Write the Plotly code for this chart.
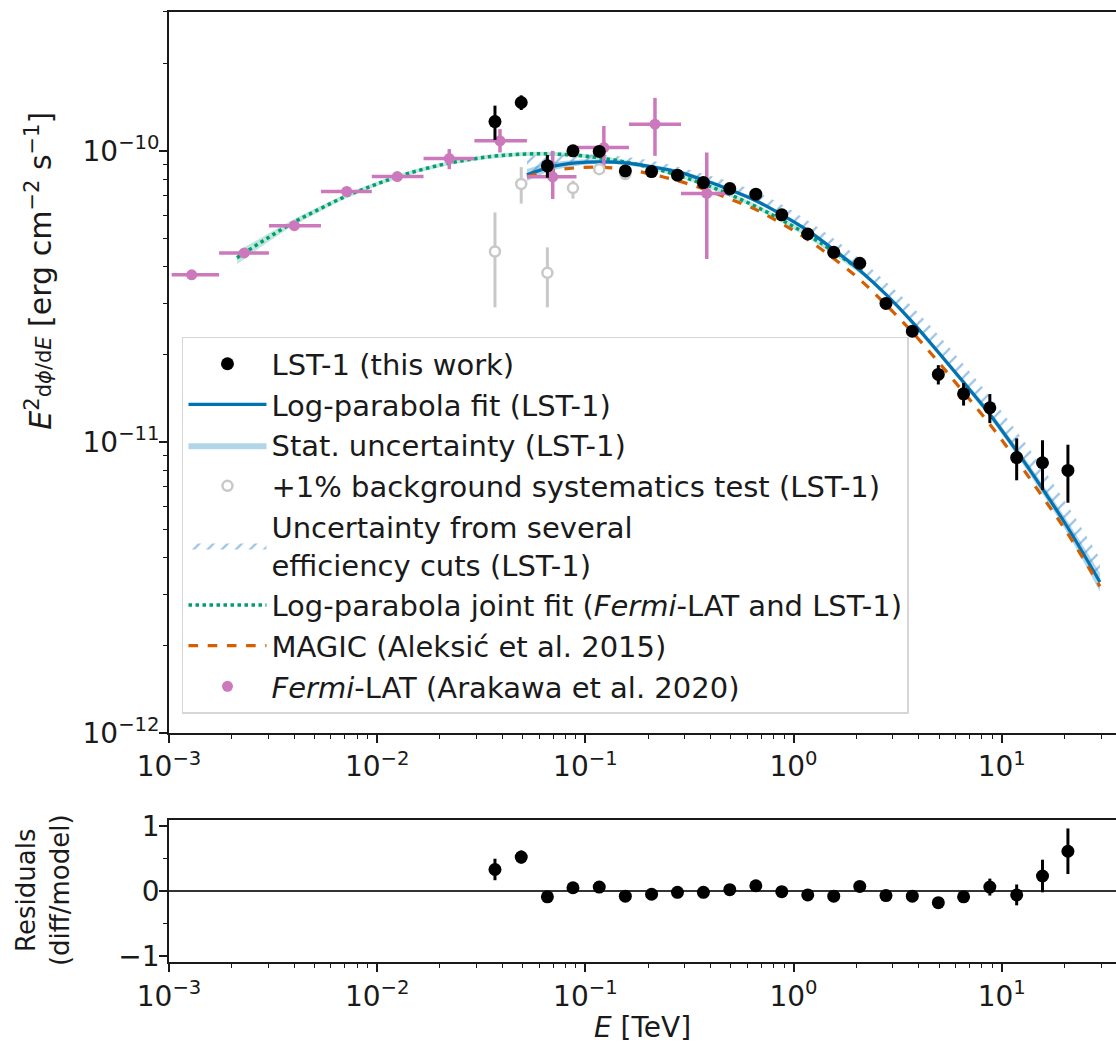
import plotly.graph_objects as go

# ---------------- data ----------------
# LST-1 flux points (TeV, erg cm-2 s-1)
lst_E = [0.0368, 0.0492, 0.0657, 0.0872, 0.1166, 0.1556, 0.208, 0.277, 0.369, 0.494,
         0.659, 0.878, 1.17, 1.56, 2.08, 2.78, 3.72, 4.96, 6.56, 8.77, 11.8, 15.7, 20.8]
lst_flux = [1.26e-10, 1.466e-10, 8.88e-11, 1.0e-10, 9.95e-11, 8.53e-11, 8.49e-11, 8.25e-11,
            7.78e-11, 7.42e-11, 7.10e-11, 6.03e-11, 5.18e-11, 4.48e-11, 4.11e-11, 2.99e-11,
            2.40e-11, 1.705e-11, 1.463e-11, 1.31e-11, 8.83e-12, 8.48e-12, 7.98e-12]
lst_err = [1.7e-11, 8.5e-12, 8.0e-12, 4.5e-12, 3.0e-12, 2.0e-12, 1.6e-12, 1.4e-12, 1.3e-12,
           1.2e-12, 1.2e-12, 1.0e-12, 1.0e-12, 0.9e-12, 0.9e-12, 0.8e-12, 0.8e-12, 1.3e-12,
           1.3e-12, 1.5e-12, 1.45e-12, 1.65e-12, 1.8e-12]

# residuals (diff/model)
res_val = [0.33, 0.52, -0.09, 0.05, 0.06, -0.08, -0.05, -0.02, -0.02, 0.02, 0.08, -0.01,
           -0.06, -0.08, 0.07, -0.07, -0.08, -0.18, -0.09, 0.06, -0.06, 0.23, 0.61]
res_err = [0.165, 0.10, 0.04, 0.03, 0.03, 0.03, 0.03, 0.03, 0.03, 0.03, 0.03, 0.03, 0.03,
           0.03, 0.03, 0.03, 0.04, 0.05, 0.07, 0.13, 0.16, 0.25, 0.35]

# +1% background systematics test (LST-1)
sys_E = [0.0368, 0.0492, 0.0657, 0.0872, 0.1166, 0.1556]
sys_flux = [4.51e-11, 7.69e-11, 3.81e-11, 7.45e-11, 8.65e-11, 8.32e-11]
sys_err_up = [1.63e-11, 1.10e-11, 0.85e-11, 0.45e-11, 0.20e-11, 0.15e-11]
sys_err_dn = [1.61e-11, 1.10e-11, 0.91e-11, 0.60e-11, 0.20e-11, 0.15e-11]

# Fermi-LAT (Arakawa et al. 2020)
fermi_E = [1.285e-3, 2.30e-3, 4.00e-3, 7.14e-3, 1.249e-2, 2.22e-2, 3.89e-2, 6.97e-2,
           0.1227, 0.216, 0.383]
fermi_Elo = [1.03e-3, 1.74e-3, 3.02e-3, 5.37e-3, 9.42e-3, 1.67e-2, 2.93e-2, 5.24e-2,
             9.07e-2, 0.162, 0.288]
fermi_Ehi = [1.74e-3, 3.02e-3, 5.37e-3, 9.42e-3, 1.67e-2, 2.93e-2, 5.24e-2, 9.07e-2,
             0.162, 0.288, 0.505]
fermi_flux = [3.75e-11, 4.46e-11, 5.53e-11, 7.25e-11, 8.16e-11, 9.41e-11, 1.082e-10,
              8.14e-11, 1.026e-10, 1.235e-10, 7.14e-11]
fermi_err_up = [1.1e-12, 1.3e-12, 1.7e-12, 2.2e-12, 2.5e-12, 7.3e-12, 1.05e-11, 1.86e-11,
                1.92e-11, 2.85e-11, 2.73e-11]
fermi_err_dn = [1.1e-12, 1.3e-12, 1.7e-12, 2.2e-12, 2.5e-12, 7.6e-12, 9.5e-12, 1.31e-11,
                1.38e-11, 2.74e-11, 2.89e-11]

# Log-parabola fit (LST-1)
fit_E = [0.0524, 0.0684, 0.0901, 0.1175, 0.155, 0.2089, 0.2785, 0.3671, 0.4947, 0.6597,
         0.8796, 1.173, 1.563, 2.084, 2.778, 3.704, 4.938, 6.512, 8.776, 11.83, 15.77,
         20.57, 29.63]
fit_flux = [8.27e-11, 8.81e-11, 9.09e-11, 9.17e-11, 9.09e-11, 8.81e-11, 8.47e-11, 7.95e-11,
            7.35e-11, 6.74e-11, 6.03e-11, 5.32e-11, 4.57e-11, 3.88e-11, 3.21e-11, 2.59e-11,
            2.04e-11, 1.612e-11, 1.243e-11, 9.28e-12, 6.87e-12, 5.13e-12, 3.30e-12]
# stat. band half-width (relative)
stat_rel = [0.048, 0.032, 0.024, 0.016, 0.016, 0.016, 0.016, 0.016, 0.016, 0.016, 0.016,
            0.016, 0.016, 0.016, 0.016, 0.020, 0.022, 0.024, 0.028, 0.032, 0.040, 0.048, 0.074]
# efficiency-cuts envelope (upper edge of hatch)
hatch_hi = [9.61e-11, 9.69e-11, 9.72e-11, 9.69e-11, 9.54e-11, 9.24e-11, 8.81e-11, 8.34e-11,
            7.83e-11, 7.23e-11, 6.53e-11, 5.75e-11, 4.99e-11, 4.26e-11, 3.55e-11, 2.92e-11,
            2.34e-11, 1.859e-11, 1.432e-11, 1.086e-11, 8.11e-12, 6.10e-12, 3.98e-12]

# MAGIC (Aleksic et al. 2015)
magic_flux = [8.14e-11, 8.54e-11, 8.74e-11, 8.78e-11, 8.64e-11, 8.31e-11, 7.89e-11, 7.41e-11,
              6.84e-11, 6.28e-11, 5.62e-11, 4.95e-11, 4.26e-11, 3.61e-11, 2.96e-11, 2.39e-11,
              1.889e-11, 1.490e-11, 1.148e-11, 8.64e-12, 6.45e-12, 4.89e-12, 3.19e-12]

# Joint fit (Fermi-LAT + LST-1)
joint_E = [2.121e-3, 2.891e-3, 3.940e-3, 5.312e-3, 7.160e-3, 9.441e-3, 1.2455e-2, 1.660e-2,
           2.237e-2, 2.949e-2, 3.889e-2, 6.050e-2, 9.42e-2, 0.1466, 0.2282, 0.3551, 0.5527,
           0.8603, 1.339, 2.130]
joint_flux = [4.295e-11, 4.95e-11, 5.66e-11, 6.32e-11, 7.01e-11, 7.58e-11, 8.14e-11, 8.64e-11,
              9.09e-11, 9.40e-11, 9.63e-11, 9.77e-11, 9.63e-11, 9.22e-11, 8.59e-11, 7.77e-11,
              6.83e-11, 5.83e-11, 4.84e-11, 3.86e-11]
joint_rel = [0.05, 0.035, 0.025, 0.02, 0.018, 0.016, 0.016, 0.016, 0.016, 0.016, 0.016, 0.016,
             0.016, 0.016, 0.016, 0.016, 0.018, 0.02, 0.024, 0.03]

# axis ticks
x_tickvals = [1e-3, 1e-2, 1e-1, 1, 10]
x_ticktext = ["10<sup>−3</sup>", "10<sup>−2</sup>", "10<sup>−1</sup>", "10<sup>0</sup>",
              "10<sup>1</sup>"]
y_tickvals = [1e-12, 1e-11, 1e-10]
y_ticktext = ["10<sup>−12</sup>", "10<sup>−11</sup>", "10<sup>−10</sup>"]
res_tickvals = [-1, 0, 1]
res_ticktext = ["−1", "0", "1"]

# ---------------- styling ----------------
BLUE = "#0173B2"
GREEN = "#029E73"
ORANGE = "#D55E00"
PINK = "#CC78BC"
GREY = "#c8c8c8"
FONT = "DejaVu Sans"
INK = "#1a1a1a"
TICK_SIZE = 28
LEG_SIZE = 29
TITLE_SIZE = 29

fig = go.Figure()

# joint-fit band
fig.add_trace(go.Scatter(x=joint_E, y=[f * (1 - r) for f, r in zip(joint_flux, joint_rel)],
                         mode="lines", line=dict(width=0, shape="spline"),
                         showlegend=False, hoverinfo="skip"))
fig.add_trace(go.Scatter(x=joint_E, y=[f * (1 + r) for f, r in zip(joint_flux, joint_rel)],
                         mode="lines", line=dict(width=0, shape="spline"), fill="tonexty",
                         fillcolor="rgba(2,158,115,0.25)", showlegend=False, hoverinfo="skip"))

# stat band
fig.add_trace(go.Scatter(x=fit_E, y=[f * (1 - r) for f, r in zip(fit_flux, stat_rel)],
                         mode="lines", line=dict(width=0, shape="spline"),
                         showlegend=False, hoverinfo="skip"))
fig.add_trace(go.Scatter(x=fit_E, y=[f * (1 + r) for f, r in zip(fit_flux, stat_rel)],
                         mode="lines", line=dict(width=0, shape="spline"), fill="tonexty",
                         fillcolor="rgba(1,115,178,0.3)", name="Stat. uncertainty (LST-1)",
                         legendrank=3))

# hatch (efficiency cuts)
fig.add_trace(go.Scatter(x=fit_E, y=fit_flux, mode="lines",
                         line=dict(width=0, shape="spline"), showlegend=False, hoverinfo="skip"))
fig.add_trace(go.Scatter(x=fit_E, y=hatch_hi, mode="lines",
                         line=dict(width=0, shape="spline"), fill="tonexty",
                         fillcolor="rgba(0,0,0,0)",
                         fillpattern=dict(shape="/", fgcolor="#3586c8", bgcolor="rgba(0,0,0,0)",
                                          size=10, solidity=0.22),
                         name="Uncertainty from several<br>efficiency cuts (LST-1)",
                         legendrank=5))

# joint fit line
fig.add_trace(go.Scatter(x=joint_E, y=joint_flux, mode="lines",
                         line=dict(color=GREEN, width=3.5, dash="dot", shape="spline"),
                         name="Log-parabola joint fit (<i>Fermi</i>-LAT and LST-1)",
                         legendrank=6))
# LST-1 fit line
fig.add_trace(go.Scatter(x=fit_E, y=fit_flux, mode="lines",
                         line=dict(color=BLUE, width=3.2, shape="spline"),
                         name="Log-parabola fit (LST-1)", legendrank=2))
# MAGIC
fig.add_trace(go.Scatter(x=fit_E, y=magic_flux, mode="lines",
                         line=dict(color=ORANGE, width=3.2, dash="dash", shape="spline"),
                         name="MAGIC (Aleksić et al. 2015)", legendrank=7))

# Fermi points
fig.add_trace(go.Scatter(
    x=fermi_E, y=fermi_flux, mode="markers",
    marker=dict(color=PINK, size=11),
    error_x=dict(type="data", symmetric=False,
                 array=[h - e for h, e in zip(fermi_Ehi, fermi_E)],
                 arrayminus=[e - l for e, l in zip(fermi_E, fermi_Elo)],
                 color=PINK, thickness=3.5, width=0),
    error_y=dict(type="data", symmetric=False, array=fermi_err_up, arrayminus=fermi_err_dn,
                 color=PINK, thickness=3.5, width=0),
    name="<i>Fermi</i>-LAT (Arakawa et al. 2020)", legendrank=8))

# systematics test points
fig.add_trace(go.Scatter(
    x=sys_E, y=sys_flux, mode="markers",
    marker=dict(color="white", size=10, line=dict(color=GREY, width=2.5)),
    error_y=dict(type="data", symmetric=False, array=sys_err_up, arrayminus=sys_err_dn,
                 color=GREY, thickness=3, width=0),
    name="+1% background systematics test (LST-1)", legendrank=4))

# LST-1 points
fig.add_trace(go.Scatter(
    x=lst_E, y=lst_flux, mode="markers",
    marker=dict(color="black", size=13),
    error_y=dict(type="data", array=lst_err, color="black", thickness=3, width=0),
    name="LST-1 (this work)", legendrank=1))

# residuals
fig.add_trace(go.Scatter(
    x=lst_E, y=res_val, mode="markers", xaxis="x2", yaxis="y2",
    marker=dict(color="black", size=13),
    error_y=dict(type="data", array=res_err, color="black", thickness=3, width=0),
    showlegend=False))

minor_log = dict(ticks="outside", ticklen=4.5, tickwidth=1.3, tickcolor=INK, showgrid=False)
axis_common = dict(showline=True, linecolor=INK, linewidth=1.8, ticks="outside",
                   ticklen=8, tickwidth=1.6, tickcolor=INK, showgrid=False,
                   zeroline=False, tickfont=dict(family=FONT, size=TICK_SIZE, color=INK))

fig.update_layout(
    width=1116, height=1044,
    margin=dict(l=169, r=0, t=12, b=82),
    paper_bgcolor="white", plot_bgcolor="white",
    font=dict(family=FONT, size=24, color=INK),
    showlegend=True,
    legend=dict(x=0.0137, y=0.658, xanchor="left", yanchor="top",
                bgcolor="rgba(255,255,255,0.85)", bordercolor="#d6d6d6", borderwidth=1.5,
                font=dict(family=FONT, size=LEG_SIZE, color=INK), itemwidth=78,
                tracegroupgap=0, traceorder="normal"),
    xaxis=dict(type="log", range=[-3, 1.549], domain=[0, 1], anchor="y",
               tickvals=x_tickvals, ticktext=x_ticktext, mirror=True,
               minor=dict(dtick="D1", **minor_log), **axis_common),
    yaxis=dict(type="log", range=[-12, -9.523], domain=[0.2411, 1], anchor="x",
               tickvals=y_tickvals, ticktext=y_ticktext, ticklabelstandoff=-6,
               minor=dict(dtick="D1", **minor_log), **axis_common),
    xaxis2=dict(type="log", range=[-3, 1.549], domain=[0, 1], anchor="y2",
                tickvals=x_tickvals, ticktext=x_ticktext, mirror=True, matches="x",
                minor=dict(dtick="D1", **minor_log),
                title=dict(text="<i>E</i> [TeV]",
                           font=dict(family=FONT, size=TITLE_SIZE - 1, color=INK), standoff=4),
                **axis_common),
    yaxis2=dict(range=[-1.09, 1.09], domain=[0, 0.1495], anchor="x2",
                tickvals=res_tickvals, ticktext=res_ticktext, ticklabelstandoff=-6,
                minor=dict(dtick=0.5, **minor_log), **axis_common),
    annotations=[
        dict(text="<i>E</i><sup>2</sup><span style='font-size:21px'>d<i>ϕ</i>/d<i>E</i></span>"
                  " [erg cm<sup>−2</sup> s<sup>−1</sup>]",
             xref="paper", yref="paper", x=-0.137, y=0.728, xanchor="center",
             yanchor="middle", textangle=-90, showarrow=False,
             font=dict(family=FONT, size=TITLE_SIZE + 1, color=INK)),
        dict(text="Residuals<br>(diff/model)",
             xref="paper", yref="paper", x=-0.133, y=0.0758, xanchor="center",
             yanchor="middle", textangle=-90, showarrow=False,
             font=dict(family=FONT, size=TITLE_SIZE - 3, color=INK)),
    ],
)
fig.update_yaxes(selector=dict(anchor="x2"), zeroline=True, zerolinecolor="#333",
                 zerolinewidth=1.5)

fig.write_html("out.html")
